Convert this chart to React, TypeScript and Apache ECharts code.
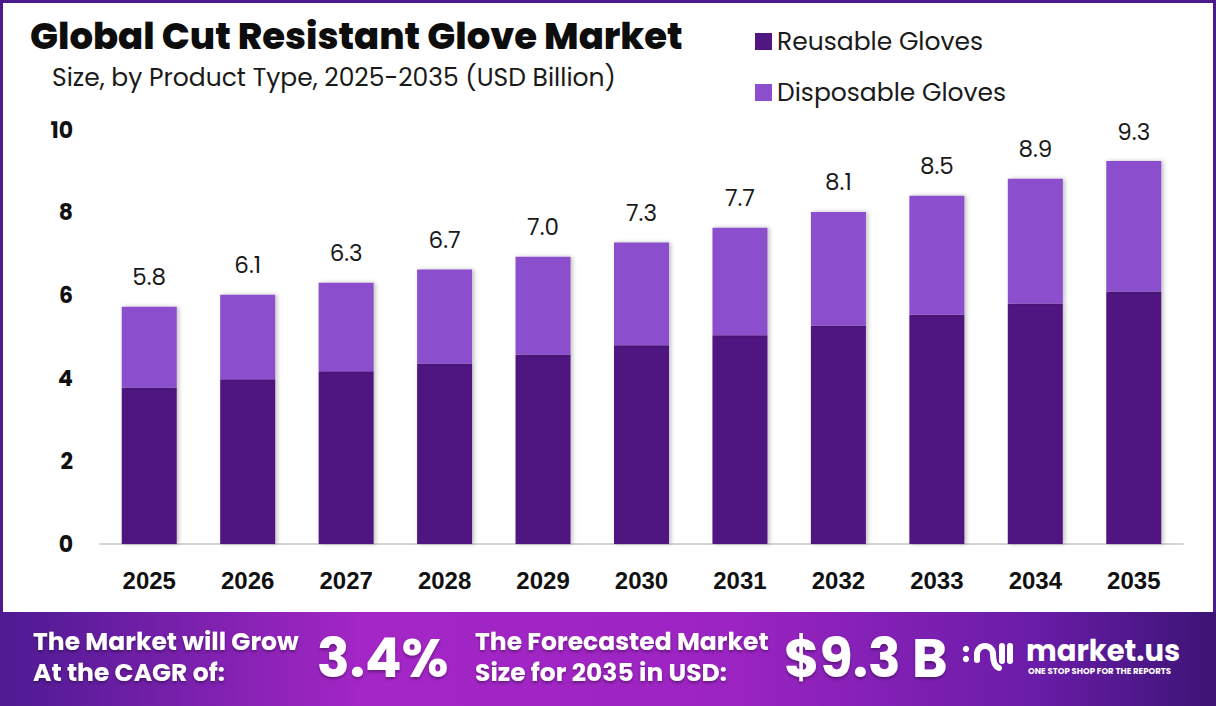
import React, { useEffect, useRef } from "react";
import * as echarts from "echarts";

const years = ["2025", "2026", "2027", "2028", "2029", "2030", "2031", "2032", "2033", "2034", "2035"];
const reusable = [3.78, 3.98, 4.17, 4.36, 4.58, 4.8, 5.04, 5.28, 5.54, 5.81, 6.1];
const disposable = [1.95, 2.04, 2.14, 2.27, 2.36, 2.48, 2.6, 2.74, 2.87, 3.01, 3.15];
const totals = ["5.8", "6.1", "6.3", "6.7", "7.0", "7.3", "7.7", "8.1", "8.5", "8.9", "9.3"];
const seriesNames = ["Reusable Gloves", "Disposable Gloves"];
const seriesColors = ["#501682", "#8b4fcd"];
const title = "Global Cut Resistant Glove Market";
const subtitle = "Size, by Product Type, 2025-2035 (USD Billion)";
const cagrLines = ["The Market will Grow", "At the CAGR of:"];
const cagrValue = "3.4%";
const sizeLines = ["The Forecasted Market", "Size for 2035 in USD:"];
const sizeValue = "$9.3 B";

const FONT = "Poppins, Inter, 'Noto Sans', sans-serif";

export default function App() {
  const ref = useRef<HTMLDivElement>(null);
  useEffect(() => {
    if (!ref.current) return;
    const chart = echarts.init(ref.current, undefined, { renderer: "svg" });
    const white = "#ffffff";
    const footTxt = (x: number, y: number, text: string, size: number, lineHeight: number) => ({
      type: "text",
      x,
      y,
      style: {
        text,
        fill: white,
        font: `700 ${size}px ${FONT}`,
        lineHeight,
        textVerticalAlign: "middle",
        textShadowColor: "rgba(0,0,0,0.35)",
        textShadowBlur: 3,
        textShadowOffsetY: 2,
      },
    });
    chart.setOption({
      animation: false,
      backgroundColor: "#ffffff",
      grid: { left: 100, right: 33, top: 130, bottom: 162, containLabel: false },
      legend: {
        orient: "vertical",
        left: 750,
        top: 24,
        itemWidth: 17,
        itemHeight: 17,
        itemGap: 26,
        icon: "rect",
        data: seriesNames,
        textStyle: { fontSize: 25, lineHeight: 25, color: "#1a1a1a", fontFamily: FONT, padding: [0, 0, 0, 0] },
      },
      xAxis: {
        type: "category",
        data: years,
        axisLine: { lineStyle: { color: "#d4d4d4", width: 2 } },
        axisTick: { show: false },
        axisLabel: { margin: 24, fontSize: 24, fontWeight: "bold", color: "#111", fontFamily: "'Liberation Sans', Arial, sans-serif" },
      },
      yAxis: {
        type: "value",
        min: 0,
        max: 10,
        interval: 2,
        splitLine: { show: false },
        axisLine: { show: false },
        axisTick: { show: false },
        axisLabel: { margin: 27, fontSize: 22, fontWeight: "bold", color: "#111", fontFamily: FONT },
      },
      series: [
        {
          name: seriesNames[0],
          type: "bar",
          stack: "total",
          barWidth: 55,
          data: reusable,
          itemStyle: { color: seriesColors[0], shadowColor: "rgba(0,0,0,0.25)", shadowBlur: 4, shadowOffsetX: 2 },
        },
        {
          name: seriesNames[1],
          type: "bar",
          stack: "total",
          barWidth: 55,
          data: disposable,
          itemStyle: { color: seriesColors[1], shadowColor: "rgba(0,0,0,0.25)", shadowBlur: 4, shadowOffsetX: 2 },
          label: {
            show: true,
            position: "top",
            distance: 18,
            fontSize: 23,
            color: "#1a1a1a",
            fontFamily: FONT,
            formatter: (p: any) => totals[p.dataIndex],
          },
        },
      ],
      graphic: [
        {
          type: "rect",
          shape: { x: 1.5, y: 1.5, width: 1213, height: 640 },
          style: { fill: "none", stroke: "#4b1a8c", lineWidth: 3 },
          silent: true,
        },
        {
          type: "text",
          x: 30,
          y: 36,
          style: { text: title, fill: "#0d0d0d", font: `800 37px ${FONT}`, textVerticalAlign: "middle" },
        },
        {
          type: "text",
          x: 52,
          y: 77,
          style: { text: subtitle, fill: "#1a1a1a", font: `400 25px ${FONT}`, textVerticalAlign: "middle" },
        },
        {
          type: "rect",
          shape: { x: 0, y: 612, width: 1216, height: 94 },
          style: {
            fill: new echarts.graphic.LinearGradient(0, 0, 1, 0, [
              { offset: 0, color: "#4e1a92" },
              { offset: 0.3, color: "#a426c6" },
              { offset: 0.6, color: "#9c24c2" },
              { offset: 0.85, color: "#6a1ca8" },
              { offset: 1, color: "#3c1475" },
            ]),
          },
        },
        footTxt(33, 656.5, cagrLines.join("\n"), 25, 31),
        footTxt(317, 658, cagrValue, 54, 54),
        footTxt(475, 656.5, sizeLines.join("\n"), 25, 31),
        footTxt(784, 658, sizeValue, 54, 54),
        // logo icon
        { type: "circle", shape: { cx: 966, cy: 649, r: 3.2 }, style: { fill: white } },
        { type: "circle", shape: { cx: 966, cy: 659, r: 3.2 }, style: { fill: white } },
        {
          type: "arc",
          shape: { cx: 985, cy: 654, r: 8, startAngle: Math.PI, endAngle: Math.PI * 2, clockwise: true },
          style: { stroke: white, lineWidth: 6, fill: "none", lineCap: "round" },
        },
        { type: "line", shape: { x1: 977, y1: 654, x2: 977, y2: 660 }, style: { stroke: white, lineWidth: 6, lineCap: "round" } },
        {
          type: "bezierCurve",
          shape: { x1: 993, y1: 654, x2: 999, y2: 668, cpx1: 993, cpy1: 666 },
          style: { stroke: white, lineWidth: 6, fill: "none", lineCap: "round" },
        },
        { type: "line", shape: { x1: 1002, y1: 646, x2: 1002, y2: 661 }, style: { stroke: white, lineWidth: 6, lineCap: "round" } },
        { type: "line", shape: { x1: 1010, y1: 646, x2: 1010, y2: 661 }, style: { stroke: white, lineWidth: 6, lineCap: "round" } },
        {
          type: "text",
          x: 1026,
          y: 651,
          style: { text: "market.us", fill: white, font: `700 29px ${FONT}`, lineHeight: 26, textVerticalAlign: "middle" },
        },
        {
          type: "text",
          x: 1028,
          y: 671,
          style: { text: "ONE STOP SHOP FOR THE REPORTS", fill: white, font: `700 8.5px ${FONT}`, lineHeight: 9, textVerticalAlign: "middle" },
        },
      ],
    });
    return () => chart.dispose();
  }, []);
  return <div ref={ref} style={{ position: "fixed", left: 0, top: 0, width: 1216, height: 706 }} />;
}
